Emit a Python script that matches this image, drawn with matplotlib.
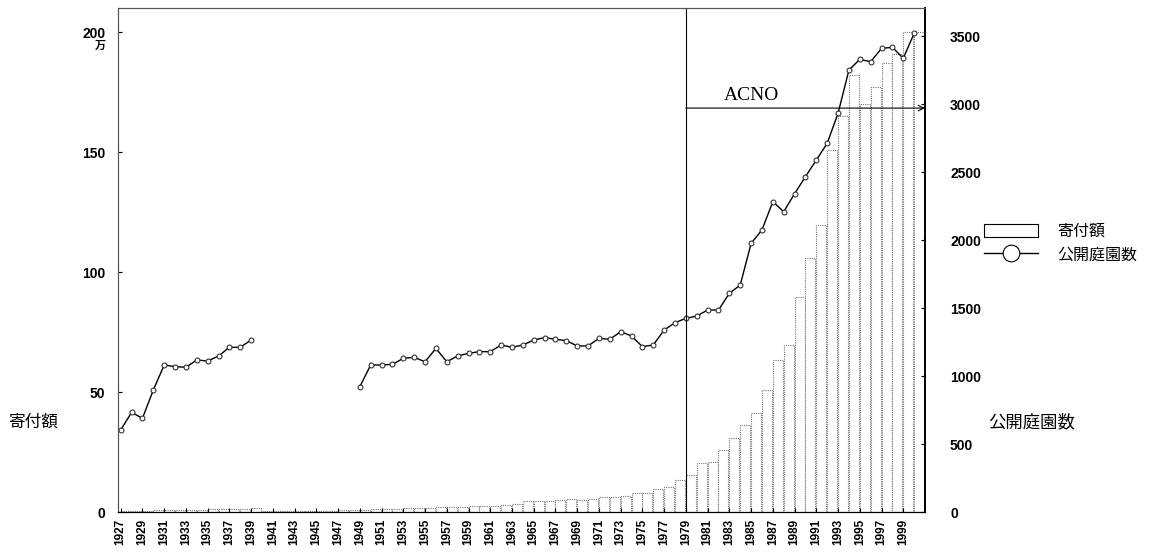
import numpy as np
import matplotlib.pyplot as plt
from matplotlib.lines import Line2D
from matplotlib.patches import Patch

plt.rcParams['font.family'] = ['Liberation Sans', 'Noto Sans CJK JP']

# 年
years = list(range(1927, 2001))

# 寄付額（万）- 棒グラフ、左軸
donation = [0.4, 0.6, 0.6, 0.8, 0.9, 0.9, 0.9, 1.0, 1.1, 1.2, 1.3, 1.4, 1.5,
            0.6, 0.4, 0.4, 0.5, 0.5, 0.5, 0.6, 0.8, 0.9,
            1.0, 1.2, 1.3, 1.4, 1.6, 1.7, 1.8, 1.9, 2.0, 2.2, 2.4, 2.5, 2.7, 2.9,
            3.2, 4.6, 4.7, 4.6, 5.0, 5.3, 5.0, 5.3, 6.2, 6.4, 6.8, 7.8, 7.9, 9.4,
            10.5, 13.3, 15.4, 20.3, 21.0, 25.8, 30.7, 36.3, 41.1, 50.8, 63.3, 69.6,
            89.7, 105.7, 119.6, 150.8, 165, 182, 170, 177, 187, 191, 200, 200]

# 公開庭園数 - 折れ線、右軸（1940-1948は欠測）
gardens = [603, 733, 689, 897, 1081, 1069, 1064, 1118, 1110, 1147, 1211, 1211, 1265,
           None, None, None, None, None, None, None, None, None,
           921, 1081, 1081, 1086, 1130, 1137, 1105, 1203, 1105, 1147, 1167, 1179, 1179,
           1228, 1211, 1228, 1265, 1282, 1270, 1260, 1221, 1221, 1277, 1270, 1326, 1294,
           1216, 1228, 1338, 1392, 1424, 1441, 1485, 1485, 1608, 1669, 1975, 2074,
           2282, 2208, 2340, 2466, 2588, 2711, 2932, 3250, 3328, 3311, 3409, 3417,
           3336, 3520]

left_ticks = [0, 50, 100, 150, 200]
right_ticks = [0, 500, 1000, 1500, 2000, 2500, 3000, 3500]
xtick_years = list(range(1927, 2000, 2))

acno_year = 1979

x = np.array(years, dtype=float)
g = np.array([np.nan if v is None else v for v in gardens], dtype=float)

fig = plt.figure(figsize=(11.59, 5.56), dpi=100)
ax = fig.add_axes([118 / 1159, 1 - 512 / 556, (925 - 118) / 1159, (512 - 8) / 556])
ax2 = ax.twinx()

ax.bar(x, donation, width=0.92, align='edge', facecolor='white',
       edgecolor='#777777', linewidth=0.8, linestyle=(0, (1, 1)))
ax2.plot(x, g, color='black', lw=1.0, marker='o', ms=3.5,
         mfc='white', mec='#333333', mew=0.8)

ax.set_xlim(1926.75, 2001.0)
ax.set_ylim(0, 210)
ax2.set_ylim(0, 3706)

ax.set_xticks(xtick_years)
ax.set_xticklabels([str(y) for y in xtick_years], rotation=90,
                   fontsize=8.5, fontweight='bold')
ax.set_yticks(left_ticks)
ax.set_yticklabels([str(v) for v in left_ticks], fontsize=10, fontweight='bold')
ax2.set_yticks(right_ticks)
ax2.set_yticklabels([str(v) for v in right_ticks], fontsize=10, fontweight='bold')

ax.tick_params(axis='y', direction='in', length=3, pad=9)
ax.tick_params(axis='x', direction='in', length=3, pad=5)
ax2.tick_params(axis='y', direction='in', length=3, pad=18)

for a in (ax, ax2):
    a.spines['left'].set_linestyle((0, (1, 1)))
    a.spines['left'].set_color('#555555')
    a.spines['top'].set_linestyle((0, (1, 1)))
    a.spines['top'].set_color('#555555')
    a.spines['right'].set_linewidth(1.2)

ax.annotate('万', xy=(0, 200), xycoords=('axes fraction', 'data'),
            xytext=(-9, -10), textcoords='offset points',
            ha='right', va='center', fontsize=8, fontweight='bold')

# ACNO 区切り線と矢印
ax2.axvline(acno_year, color='black', lw=0.8)
ax2.annotate('', xy=(2001.0, 2970), xytext=(acno_year, 2970),
             arrowprops=dict(arrowstyle='->', lw=0.8, color='black',
                             shrinkA=0, shrinkB=0))
ax2.text(1985.0, 3060, 'ACNO', family='Liberation Serif', fontsize=14,
         ha='center', va='center')

fig.text(8 / 1159, 1 - 422 / 556, '寄付額', fontsize=12, ha='left', va='center')
fig.text(988 / 1159, 1 - 422 / 556, '公開庭園数', fontsize=12.5, ha='left', va='center')

handles = [Patch(facecolor='white', edgecolor='black', linewidth=0.8),
           Line2D([0], [0], color='black', lw=1.0, marker='o', ms=12,
                  mfc='white', mec='black', mew=0.8)]
fig.legend(handles, ['寄付額', '公開庭園数'], loc='upper left',
           bbox_to_anchor=(976 / 1159, 1 - 216 / 556), frameon=False,
           fontsize=11.5, handlelength=3.4, handleheight=0.9,
           handletextpad=1.2, labelspacing=0.5, borderpad=0)

fig.savefig('out.png', dpi=100)
